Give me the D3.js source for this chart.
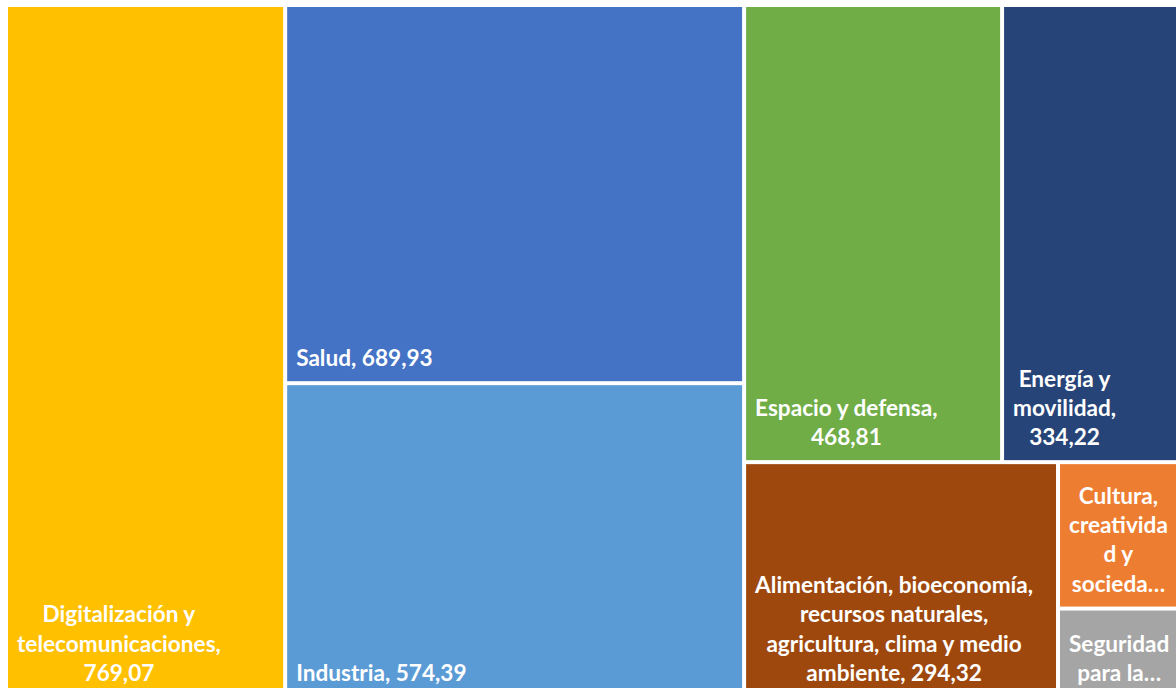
<!DOCTYPE html>
<html>
<head>
<meta charset="utf-8">
<script src="https://cdn.jsdelivr.net/npm/d3@7"></script>
<style>
  html, body { margin: 0; padding: 0; background: #fff; overflow: hidden; }
  #chart svg { display: block; }
</style>
</head>
<body>
<div id="chart"></div>
<script>
// Categories, values and the label lines as Excel wrapped them
const names = [
  "Digitalización y telecomunicaciones",
  "Salud",
  "Industria",
  "Espacio y defensa",
  "Energía y movilidad",
  "Alimentación, bioeconomía, recursos naturales, agricultura, clima y medio ambiente",
  "Cultura, creatividad y sociedad",
  "Seguridad para la sociedad",
];
const values = [769.07, 689.93, 574.39, 468.81, 334.22, 294.32, 74.5, 45.5];
const labelLines = [
  ["Digitalización y", "telecomunicaciones,", "769,07"],
  ["Salud, 689,93"],
  ["Industria, 574,39"],
  ["Espacio y defensa,", "468,81"],
  ["Energía y", "movilidad,", "334,22"],
  ["Alimentación, bioeconomía,", "recursos naturales,", "agricultura, clima y medio", "ambiente, 294,32"],
  ["Cultura,", "creativida", "d y", "socieda…"],
  ["Seguridad", "para la…"],
];
const colors = ["#FFC000", "#4472C4", "#5B9BD5", "#70AD47", "#264478", "#9E480E", "#ED7D31", "#A5A5A5"];

// grouping that reproduces Excel's column/row arrangement
const groups = [[0], [1, 2], [[3, 4], [5, [6, 7]]]];

const svgWidth = 1176;
const svgHeight = 688;

function build(g) {
  if (typeof g === "number") return { i: g, value: values[g] };
  return { children: g.map(build) };
}

const root = d3.hierarchy({ children: groups.map(build) })
  .sum((d) => d.value || 0);

// the plot runs a little past the window on the right and bottom
d3.treemap()
  .tile(d3.treemapSliceDice)
  .size([1176, 689])
  .paddingInner(4)(root);

const svg = d3.select("#chart")
  .append("svg")
  .attr("width", svgWidth)
  .attr("height", svgHeight);

const g = svg.append("g").attr("transform", "translate(8,7)");

const leaves = g.selectAll(".cell")
  .data(root.leaves())
  .enter()
  .append("g")
  .attr("class", "cell");

leaves.append("rect")
  .attr("x", (d) => d.x0)
  .attr("y", (d) => d.y0)
  .attr("width", (d) => d.x1 - d.x0)
  .attr("height", (d) => d.y1 - d.y0)
  .attr("fill", (d) => colors[d.data.i]);

const lineH = 29.3;

leaves.each(function (d) {
  const lines = labelLines[d.data.i];
  const text = d3.select(this)
    .append("text")
    .attr("fill", "#fff")
    .style("font-family", "Lato, 'Open Sans', sans-serif")
    .style("font-weight", "bold")
    .style("font-size", "22.6px");
  const spans = lines.map((l, k) =>
    text.append("tspan")
      .attr("y", d.y1 - 15 - (lines.length - 1 - k) * lineH)
      .text(l)
  );
  // lines are centred within the block, block sits at the left
  const widths = spans.map((s) => s.node().getComputedTextLength());
  const blockW = d3.max(widths);
  spans.forEach((s, k) => s.attr("x", d.x0 + 9 + (blockW - widths[k]) / 2));
});
</script>
</body>
</html>
